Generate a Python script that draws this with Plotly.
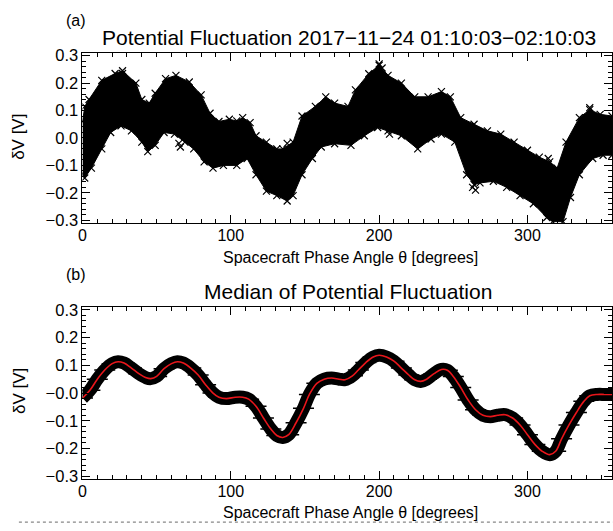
import plotly.graph_objects as go

# ---------------- data ----------------
# Panel (a): envelope of the scatter cloud (degrees, volts)
upper_deg = [0, 1.6, 4.4, 13, 22, 27, 36, 40, 45, 49, 56, 63, 72, 80, 86, 92, 99, 104, 108, 113,
             117, 124, 131, 135, 142, 148, 157, 164, 170, 179, 184, 193, 200, 206, 215, 224, 233,
             242, 248, 255, 264, 273, 282, 291, 300, 308, 315, 320, 326, 335, 342, 349, 357]
upper_val = [0.06, 0.115, 0.14, 0.21, 0.235, 0.245, 0.2, 0.14, 0.127, 0.163, 0.216, 0.228, 0.204,
             0.157, 0.09, 0.06, 0.068, 0.062, 0.074, 0.056, 0.008, -0.015, -0.04, -0.04, -0.015,
             0.08, 0.115, 0.15, 0.127, 0.115, 0.175, 0.234, 0.265, 0.228, 0.2, 0.15, 0.15, 0.169,
             0.15, 0.074, 0.05, 0.026, 0.014, -0.015, -0.045, -0.07, -0.087, -0.11, -0.015, 0.074,
             0.103, 0.086, 0.08]
lower_deg = [0, 1.5, 6, 13, 19, 26, 33, 40, 44, 49, 55, 62, 69, 75, 82, 88, 95, 104, 111, 117,
             124, 131, 138, 142, 148, 155, 161, 170, 181, 190, 199, 206, 215, 226, 235, 242, 251,
             259, 264, 268, 277, 286, 295, 304, 313, 317, 324, 329, 335, 344, 351, 357]
lower_val = [-0.13, -0.146, -0.11, -0.04, 0.02, 0.044, 0.026, -0.015, -0.05, -0.027, 0.02, 0.014,
             -0.015, -0.04, -0.087, -0.11, -0.1, -0.1, -0.075, -0.134, -0.194, -0.21, -0.23,
             -0.21, -0.134, -0.075, -0.033, -0.021, -0.027, 0.008, 0.038, 0.026, 0.008, -0.04,
             -0.004, 0.014, -0.015, -0.134, -0.17, -0.164, -0.158, -0.18, -0.21, -0.24, -0.29,
             -0.305, -0.305, -0.217, -0.134, -0.075, -0.063, -0.063]
# isolated crosses outside the dense band
outlier_deg = [27, 200, 202, 65, 66, 138, 207, 263, 265, 314, 342]
outlier_val = [0.235, 0.27, 0.255, -0.02, -0.033, -0.02, 0.014, -0.18, -0.19, -0.075, 0.11]

# Panel (b): median of the potential fluctuation
median_deg = [0, 5, 10, 15, 20, 24, 28, 33, 38, 43, 46, 50, 55, 60, 64, 68, 73, 78, 83, 88, 92,
              97, 103, 108, 112, 117, 122, 127, 131, 135, 139, 144, 149, 153, 158, 163, 168, 173,
              177, 182, 186, 191, 196, 200, 205, 210, 215, 220, 224, 228, 232, 237, 242, 246,
              250, 255, 260, 265, 270, 275, 280, 285, 290, 295, 300, 305, 310, 315, 319, 323,
              328, 333, 338, 342, 347, 352, 357]
median_val = [-0.018, 0.01, 0.05, 0.083, 0.106, 0.113, 0.108, 0.09, 0.07, 0.055, 0.052, 0.06,
              0.088, 0.106, 0.113, 0.108, 0.09, 0.065, 0.03, 0.0, -0.015, -0.02, -0.015, -0.015,
              -0.022, -0.048, -0.09, -0.13, -0.153, -0.16, -0.15, -0.107, -0.055, -0.005, 0.035,
              0.05, 0.054, 0.05, 0.048, 0.062, 0.083, 0.11, 0.13, 0.136, 0.13, 0.115, 0.09,
              0.065, 0.048, 0.042, 0.05, 0.07, 0.085, 0.082, 0.06, 0.02, -0.025, -0.06, -0.08,
              -0.085, -0.08, -0.078, -0.09, -0.115, -0.15, -0.185, -0.21, -0.222, -0.21, -0.165,
              -0.115, -0.07, -0.03, -0.01, -0.005, -0.005, -0.005]

x_ticks = [0, 100, 200, 300]
x_tick_text = ["0", "100", "200", "300"]
y_ticks = [-0.3, -0.2, -0.1, 0.0, 0.1, 0.2, 0.3]
y_text_a = ["\u22120.3", "\u22120.2", "\u22120.1", "0.0", "0.1", "0.2", "0.3"]
y_text_b = ["\u22120.3", "\u22120.2", "\u22120.1", "\u22120.0", "0.1", "0.2", "0.3"]

title_a = "Potential Fluctuation 2017\u221211\u221224 01:10:03\u221202:10:03"
title_b = "Median of Potential Fluctuation"
x_title = "Spacecraft Phase Angle \u03b8 [degrees]"
y_title = "\u03b4V [V]"

# ---------------- figure ----------------
W, H = 613, 531
FONT = "Liberation Sans, Arial, sans-serif"

def py(pix):
    return 1 - pix / H

fig = go.Figure()

# panel (a): dense band as filled polygon + cross markers
poly_x = upper_deg + lower_deg[::-1]
poly_y = upper_val + lower_val[::-1]
fig.add_trace(go.Scatter(x=poly_x, y=poly_y, fill="toself", fillcolor="black",
                         mode="lines", line=dict(color="black", width=1),
                         xaxis="x", yaxis="y", hoverinfo="skip", showlegend=False))
fig.add_trace(go.Scatter(x=upper_deg + lower_deg + outlier_deg,
                         y=upper_val + lower_val + outlier_val,
                         mode="markers",
                         marker=dict(symbol="x-thin-open", size=7, color="black",
                                     line=dict(width=1.2, color="black")),
                         xaxis="x", yaxis="y", showlegend=False))

# panel (b): black band + red median
fig.add_trace(go.Scatter(x=median_deg, y=median_val, mode="lines",
                         line=dict(color="black", width=13, shape="spline"),
                         xaxis="x2", yaxis="y2", showlegend=False))
fig.add_trace(go.Scatter(x=median_deg, y=median_val, mode="markers",
                         marker=dict(symbol="line-ew-open", size=15, color="black",
                                     line=dict(width=1.5, color="black")),
                         xaxis="x2", yaxis="y2", showlegend=False))
fig.add_trace(go.Scatter(x=median_deg, y=median_val, mode="lines",
                         line=dict(color="#e8161b", width=1.6, shape="spline"),
                         xaxis="x2", yaxis="y2", showlegend=False))

xdom = [79 / W, 612 / W]
ax_common = dict(range=[0, 357], showgrid=False, zeroline=False, showline=True,
                 linecolor="black", linewidth=1, mirror="ticks", ticks="inside",
                 ticklen=8, tickcolor="black", tickwidth=1,
                 tickmode="array", tickvals=x_ticks, ticktext=x_tick_text,
                 tickfont=dict(family=FONT, size=16, color="black"),
                 ticklabelstandoff=-2,
                 minor=dict(ticks="inside", ticklen=4, tickmode="linear", tick0=0, dtick=10,
                            tickcolor="black", showgrid=False),
                 domain=xdom)
ay_common = dict(range=[-0.31, 0.31], showgrid=False, zeroline=False, showline=True,
                 linecolor="black", linewidth=1, mirror="ticks", ticks="inside",
                 ticklen=8, tickcolor="black", tickwidth=1, tickmode="array",
                 tickvals=y_ticks, tickfont=dict(family=FONT, size=16.5, color="black"),
                 minor=dict(ticks="inside", ticklen=4, tickmode="linear", tick0=0, dtick=0.02,
                            tickcolor="black", showgrid=False))

fig.update_layout(
    width=W, height=H, margin=dict(l=0, r=0, t=0, b=0),
    paper_bgcolor="white", plot_bgcolor="white",
    xaxis=dict(ax_common, anchor="y"),
    yaxis=dict(ay_common, ticktext=y_text_a, domain=[py(222), py(48)], anchor="x"),
    xaxis2=dict(ax_common, anchor="y2"),
    yaxis2=dict(ay_common, ticktext=y_text_b, domain=[py(484), py(308)], anchor="x2"),
    font=dict(family=FONT, color="black"),
)

def note(text, xpix, ypix, size, angle=0):
    fig.add_annotation(text=text, x=xpix / W, y=py(ypix), xref="paper", yref="paper",
                       showarrow=False, xanchor="center", yanchor="middle",
                       font=dict(family=FONT, size=size, color="black"), textangle=angle)

note("(a)", 72, 15, 16)
note(title_a, 347, 32, 21)
note(x_title, 349, 257, 16)
note(y_title, 15, 134, 17, -90)
note("(b)", 72, 275, 16)
note(title_b, 346, 292, 21)
note(x_title, 349, 518, 16)
note(y_title, 15, 394, 17, -90)

fig.add_shape(type="line", xref="paper", yref="paper", x0=15 / W, x1=1, y0=py(528), y1=py(528),
              line=dict(color="#888888", width=1.2, dash="dot"))

fig.write_html("out.html")
